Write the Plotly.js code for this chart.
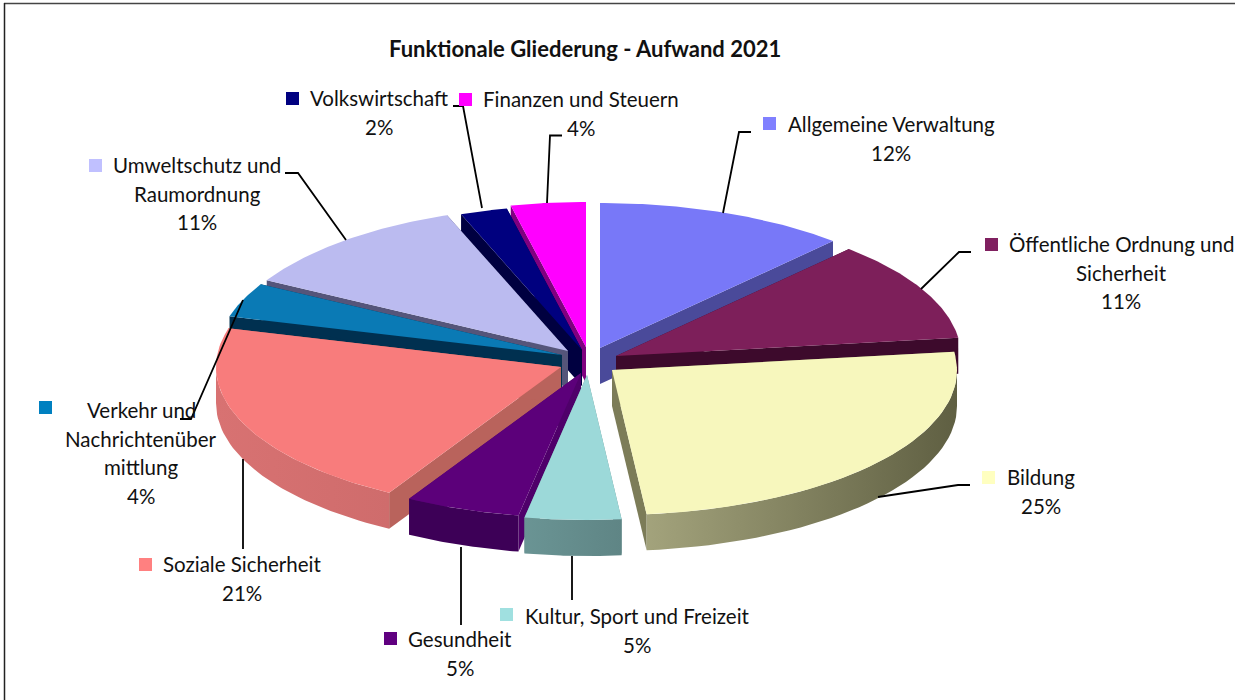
<!DOCTYPE html>
<html>
<head>
<meta charset="utf-8">
<script src="https://cdn.plot.ly/plotly-3.0.1.min.js"></script>
<style>html,body{margin:0;padding:0;background:#fff;}#chart{width:1235px;height:700px;}</style>
</head>
<body>
<div id="chart"></div>
<script>
// ---- data (share of expenditure, %) ----
const categories = ["Allgemeine Verwaltung","Öffentliche Ordnung und Sicherheit","Bildung","Kultur, Sport und Freizeit","Gesundheit","Soziale Sicherheit","Verkehr und Nachrichtenüber mittlung","Umweltschutz und Raumordnung","Volkswirtschaft","Finanzen und Steuern"];
const values = [11.8,11.2,25.4,4.5,5.4,21.0,3.8,11.2,2.2,3.5];
const labelLines = [["Allgemeine Verwaltung"],["Öffentliche Ordnung und","Sicherheit"],["Bildung"],["Kultur, Sport und Freizeit"],["Gesundheit"],["Soziale Sicherheit"],["Verkehr und","Nachrichtenüber","mittlung"],["Umweltschutz und","Raumordnung"],["Volkswirtschaft"],["Finanzen und Steuern"]];
const titleText = "Funktionale Gliederung - Aufwand 2021";

// ---- styles ----
const topColors  = ["#7878f8","#7d1f5a","#f7f7bd","#9cd9d9","#5c007a","#f87c7c","#0a7ab5","#bbbbf0","#00007f","#ff00ff"];
const cutColors  = ["#4a4a9a","#3d0a2c","#7c7c58","#6a9090","#4f006a","#b9635c","#003050","#55557a","#000040","#800080"];
const wallLeft   = ["#4a4a9a","#3d0a2c","#a3a37c","#6a9494","#3d0057","#d87272","#003050","#55557a","#000040","#800080"];
const wallRight  = ["#4a4a9a","#3d0a2c","#5f5f42","#5f8585","#3d0057","#cf6c6c","#003050","#55557a","#000040","#800080"];
const keyColors  = ["#8080ff","#802060","#ffffc0","#a0e0e0","#600080","#ff8080","#0080c0","#c0c0ff","#000080","#ff00ff"];
const FONT = "Lato, sans-serif";

// ---- layout geometry (pixel space of the axes) ----
const A = 345, B = 145, DEPTH = 36;
const apexX = [600,616,612,587,581,561,562,568,582,586];
const apexY = [348,356,370,375,373,367,355,351,350,347];
const drawOrder = [9,8,0,7,1,6,5,2,4,3];
const labelX = [891,1121,1041,637,460,242,141,197,379,581];
const labelY = [124,244,477,616,639,564,410,165,98,99];
const pctX   = [891,1121,1041,637,460,242,141,197,379,581];
const keyX   = [763,985,982,500,384,139,39,89,286,459];
const keyY   = [117,238,471,608,632,558,401,159,92,93];
const leaderX = [[723,739,751],[921,959,971],[878,958,970],[572,572],[461,461],[243,243],[243,191,180],[346,298,285],[482,463,453],[547,550,562]];
const leaderY = [[213,132,132],[289,252,252],[497,485,485],[556,600],[547,625],[459,549],[300,419,419],[240,173,173],[208,106,106],[203,135.5,135.5]];
const LINE_H = 28.7;

// ---- slices derived from the values ----
const total = values.reduce((a,b)=>a+b,0);
let acc = 0;
const starts = values.map(v=>{const s=acc; acc+=v/total*360; return s;});
const ends = starts.map((s,i)=>s+values[i]/total*360);
const rad = d=>d*Math.PI/180;
const rim = (i,t)=>[apexX[i]+A*Math.sin(rad(t)), apexY[i]-B*Math.cos(rad(t))];

const traces = [];
function poly(pts,color,name,extra){
  traces.push(Object.assign({type:"scatter",mode:"lines",x:pts.map(p=>p[0]),y:pts.map(p=>p[1]),
    fill:"toself",fillcolor:color,line:{width:0,color:color},name:name,showlegend:false,hoverinfo:"skip"},extra||{}));
}
drawOrder.forEach(i=>{
  const s=starts[i], e=ends[i], ax=apexX[i], ay=apexY[i], nm=categories[i];
  [s,e].forEach(t=>{
    const r=rim(i,t);
    poly([[ax,ay],r,[r[0],r[1]+DEPTH],[ax,ay+DEPTH]],cutColors[i],nm);
  });
  const ws=Math.max(s,90), we=Math.min(e,270);
  if(we>ws){
    const upper=[],lower=[];
    for(let t=ws;t<=we+1e-6;t+=(we-ws)/40){const r=rim(i,t);upper.push(r);lower.unshift([r[0],r[1]+DEPTH]);}
    poly(upper.concat(lower),wallLeft[i],nm,{fillgradient:{type:"horizontal",colorscale:[[0,wallLeft[i]],[1,wallRight[i]]]}});
  }
  const top=[[ax,ay]];
  for(let t=s;t<=e+1e-6;t+=(e-s)/60) top.push(rim(i,t));
  poly(top,topColors[i],nm,{hoverinfo:"text",hoveron:"fills",text:nm+": "+Math.round(values[i])+"%"});
});

// ---- labels, keys, leader lines ----
const annotations=[];
const txt=(x,y,t,size,bold)=>annotations.push({xref:"x",yref:"y",x:x,y:y,text:bold?"<b>"+t+"</b>":t,showarrow:false,xanchor:"center",yanchor:"middle",font:{family:FONT,size:size,color:"#111"}});
categories.forEach((c,i)=>{
  const lines=labelLines[i];
  lines.forEach((l,k)=>txt(labelX[i],labelY[i]+k*LINE_H,l,20.5));
  txt(pctX[i],labelY[i]+lines.length*LINE_H,Math.round(values[i])+"%",20.5);
});
txt(585,48,titleText,22,true);

const shapes=[
  {type:"line",xref:"x",yref:"y",x0:4,x1:1235,y0:3.5,y1:3.5,line:{color:"#444",width:1.4}},
  {type:"line",xref:"x",yref:"y",x0:4.5,x1:4.5,y0:3,y1:700,line:{color:"#222",width:1.5}}
];
categories.forEach((c,i)=>{
  shapes.push({type:"rect",xref:"x",yref:"y",x0:keyX[i],x1:keyX[i]+13,y0:keyY[i],y1:keyY[i]+13,fillcolor:keyColors[i],line:{width:0}});
  traces.push({type:"scatter",mode:"lines",x:leaderX[i],y:leaderY[i],line:{color:"#000",width:1.8},showlegend:false,hoverinfo:"skip",name:c+" leader"});
});

Plotly.newPlot("chart",traces,{
  width:1235,height:700,margin:{l:0,r:0,t:0,b:0},paper_bgcolor:"#fff",plot_bgcolor:"#fff",showlegend:false,
  xaxis:{range:[0,1235],visible:false,fixedrange:true},
  yaxis:{range:[700,0],visible:false,fixedrange:true},
  annotations:annotations,shapes:shapes
},{displayModeBar:false});
</script>
</body>
</html>
